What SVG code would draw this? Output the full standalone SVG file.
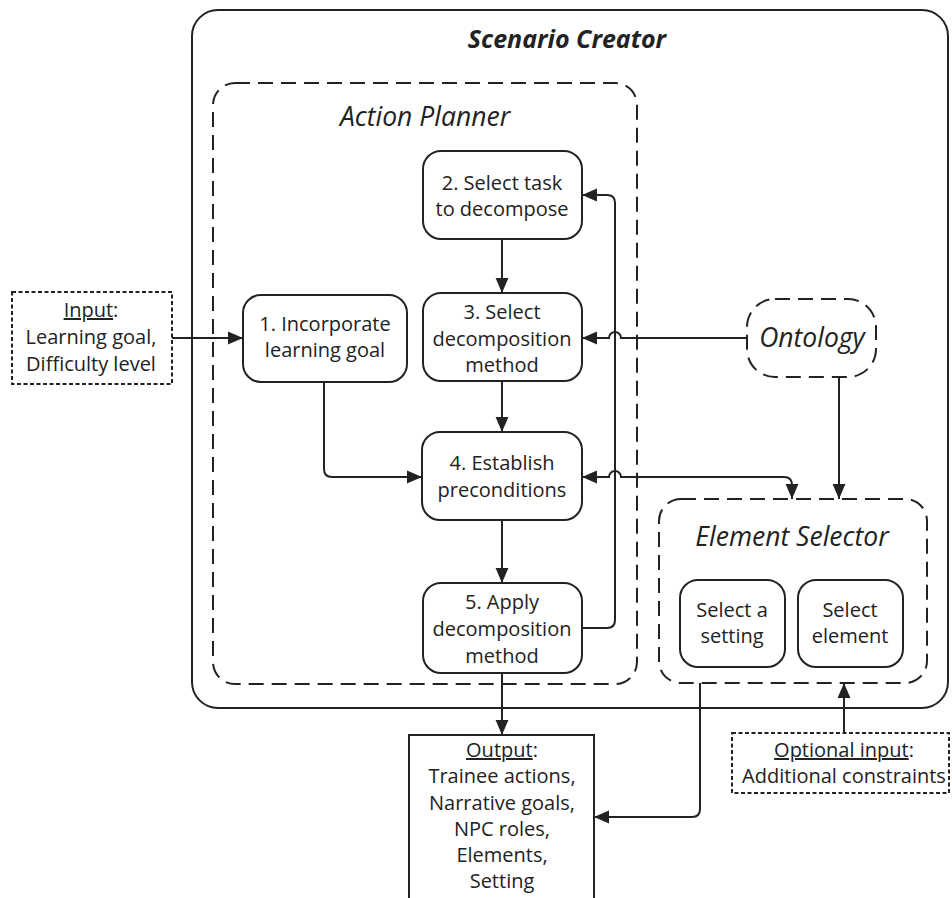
<svg xmlns="http://www.w3.org/2000/svg" width="952" height="898" viewBox="0 0 952 898">
  <style>
    .box { fill: #fff; stroke: #222; stroke-width: 2; }
    .frame { fill: none; stroke: #222; stroke-width: 2; }
    .dash { fill: none; stroke: #222; stroke-width: 2; stroke-dasharray: 15 8; }
    .dot { fill: #fff; stroke: #222; stroke-width: 2; stroke-dasharray: 4 2.5; }
    .edge { fill: none; stroke: #222; stroke-width: 2; }
    text { font-family: "Open Sans", "Noto Sans", sans-serif; font-size: 20px; fill: #222; text-anchor: middle; }
    .title { font-size: 26.5px; font-style: italic; }
    .main { font-size: 25px; font-weight: bold; font-style: italic; }
    .u { text-decoration: underline; }
  </style>
  <defs>
    <marker id="arrow" markerUnits="userSpaceOnUse" markerWidth="15" markerHeight="14" viewBox="0 0 14 12" refX="14" refY="6" orient="auto-start-reverse">
      <path d="M0,0 L14,6 L0,12 z" fill="#222"/>
    </marker>
  </defs>

  <rect width="952" height="898" fill="#fff"/>

  <!-- containers -->
  <g id="scenario-creator">
    <rect class="frame" x="192" y="10" width="756" height="698" rx="26"/>
    <text class="main" x="567" y="48">Scenario Creator</text>
  </g>
  <g id="action-planner">
    <rect class="dash" x="213" y="83" width="424" height="601" rx="22"/>
    <text class="title" x="425" y="126">Action Planner</text>
  </g>
  <g id="element-selector">
    <rect class="dash" x="659" y="499" width="268" height="184" rx="22"/>
    <text class="title" x="792" y="546">Element Selector</text>
  </g>

  <!-- nodes -->
  <g id="input">
    <rect class="dot" x="12" y="292" width="160" height="92"/>
    <text x="91" y="317"><tspan class="u">Input</tspan>:</text>
    <text x="91" y="344">Learning goal,</text>
    <text x="91" y="371">Difficulty level</text>
  </g>
  <g id="step1">
    <rect class="box" x="243" y="295" width="164" height="87" rx="18"/>
    <text x="325" y="331">1. Incorporate</text>
    <text x="325" y="357">learning goal</text>
  </g>
  <g id="step2">
    <rect class="box" x="423" y="151" width="159" height="88" rx="18"/>
    <text x="502" y="190">2. Select task</text>
    <text x="502" y="216">to decompose</text>
  </g>
  <g id="step3">
    <rect class="box" x="423" y="293" width="159" height="88" rx="18"/>
    <text x="502" y="319">3. Select</text>
    <text x="502" y="346">decomposition</text>
    <text x="502" y="372">method</text>
  </g>
  <g id="step4">
    <rect class="box" x="422" y="432" width="160" height="88" rx="18"/>
    <text x="502" y="470">4. Establish</text>
    <text x="502" y="497">preconditions</text>
  </g>
  <g id="step5">
    <rect class="box" x="423" y="583" width="159" height="90" rx="18"/>
    <text x="502" y="609">5. Apply</text>
    <text x="502" y="636">decomposition</text>
    <text x="502" y="663">method</text>
  </g>
  <g id="ontology">
    <rect class="dash" x="747" y="299" width="129" height="78" rx="28" fill="#fff"/>
    <text class="title" x="812" y="347">Ontology</text>
  </g>
  <g id="select-setting">
    <rect class="box" x="680" y="580" width="105" height="87" rx="18"/>
    <text x="732" y="617">Select a</text>
    <text x="732" y="643">setting</text>
  </g>
  <g id="select-element">
    <rect class="box" x="798" y="580" width="105" height="87" rx="18"/>
    <text x="850" y="617">Select</text>
    <text x="850" y="643">element</text>
  </g>
  <g id="output">
    <rect class="box" x="409" y="735" width="185" height="180"/>
    <text x="502" y="757"><tspan class="u">Output</tspan>:</text>
    <text x="502" y="783">Trainee actions,</text>
    <text x="502" y="810">Narrative goals,</text>
    <text x="502" y="836">NPC roles,</text>
    <text x="502" y="862">Elements,</text>
    <text x="502" y="888">Setting</text>
  </g>
  <g id="optional-input">
    <rect class="dot" x="732" y="733" width="217" height="60"/>
    <text x="844" y="757"><tspan class="u">Optional input</tspan>:</text>
    <text x="844" y="783">Additional constraints</text>
  </g>

  <!-- connectors -->
  <g id="connectors">
    <path class="edge" d="M172,338 H243" marker-end="url(#arrow)"/>
    <path class="edge" d="M502,239 V293" marker-end="url(#arrow)"/>
    <path class="edge" d="M502,381 V432" marker-end="url(#arrow)"/>
    <path class="edge" d="M502,520 V583" marker-end="url(#arrow)"/>
    <path class="edge" d="M324,382 V469 Q324,477 332,477 H422" marker-end="url(#arrow)"/>
    <path class="edge" d="M582,628 H607 Q615,628 615,620 V203 Q615,195 607,195 H582" marker-end="url(#arrow)"/>
    <path class="edge" d="M747,338 H621 A6,6 0 0 0 609,338 H582" marker-end="url(#arrow)"/>
    <path class="edge" d="M582,477 H609 A6,6 0 0 1 621,477 H784 Q792,477 792,485 V499" marker-start="url(#arrow)" marker-end="url(#arrow)"/>
    <path class="edge" d="M839,377 V499" marker-end="url(#arrow)"/>
    <path class="edge" d="M502,673 V735" marker-end="url(#arrow)"/>
    <path class="edge" d="M700,683 V809 Q700,817 692,817 H594" marker-end="url(#arrow)"/>
    <path class="edge" d="M844,733 V683" marker-end="url(#arrow)"/>
  </g>
</svg>
